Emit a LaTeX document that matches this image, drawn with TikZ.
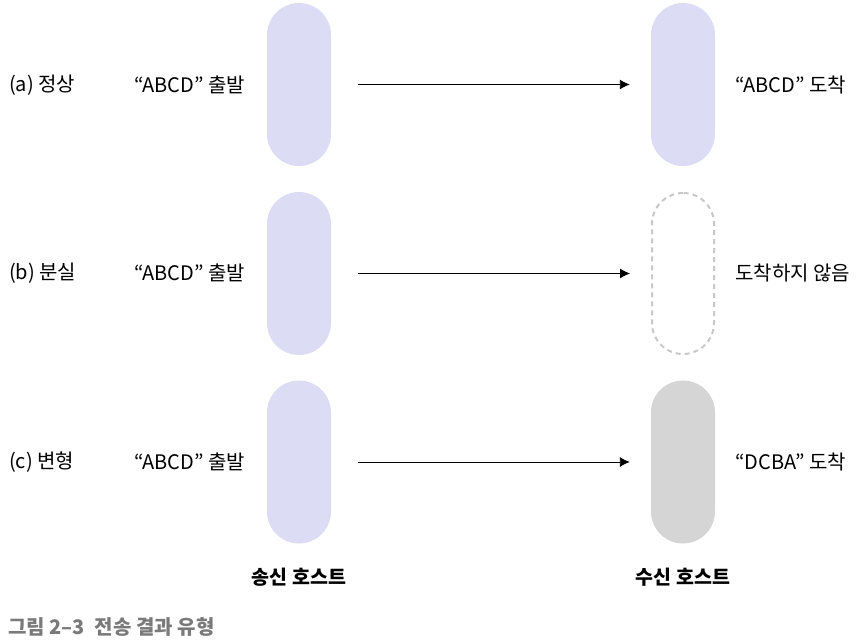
\documentclass[tikz,border=0pt]{standalone}
\usepackage{fontspec}
\setmainfont{Noto Sans CJK KR}
\usetikzlibrary{arrows.meta}
\definecolor{pillblue}{HTML}{DCDCF5}
\definecolor{pillgray}{HTML}{D5D5D5}
\definecolor{dashgray}{HTML}{C8C8C8}
\definecolor{capgray}{HTML}{7A7A7A}
\tikzset{
  pill/.style={rectangle, minimum width=64pt, minimum height=163pt, rounded corners=32pt, inner sep=0pt},
  sendpill/.style={pill, fill=pillblue},
  lostpill/.style={pill, draw=dashgray, line width=2pt, dash pattern=on 5pt off 4pt, minimum width=62pt, minimum height=161pt, rounded corners=31pt},
  graypill/.style={pill, fill=pillgray},
  lbl/.style={font=\fontsize{20}{24}\selectfont, text=black, inner sep=0pt},
  flow/.style={-{Latex[length=10pt,width=10pt]}, line width=0.9pt, shorten <=27pt, shorten >=21pt},
  host/.style={font=\fontsize{19.5}{24}\selectfont\bfseries, inner sep=0pt},
  captext/.style={font=\fontsize{20}{24}\selectfont\bfseries, text=capgray, inner sep=0pt}
}
\begin{document}
\begin{tikzpicture}[x=1pt,y=-1pt]
\useasboundingbox (0,0) rectangle (860,644);
% sender pills
\node[sendpill] (sA) at (299,84.5) {};
\node[sendpill] (sB) at (299,273.5) {};
\node[sendpill] (sC) at (299,462) {};
% receiver pills
\node[sendpill] (rA) at (683,84.5) {};
\node[lostpill] (rB) at (683,273.5) {};
\node[graypill] (rC) at (683,462) {};
% arrows
\draw[flow] (sA.east) -- (rA.west);
\draw[flow] (sB.east) -- (rB.west);
\draw[flow] (sC.east) -- (rC.west);
% left labels
\node[lbl, anchor=west] (la) at (9,85) {(a) 정상};
\node[lbl, anchor=west] (lb) at (9,273) {(b) 분실};
\node[lbl, anchor=west] (lc) at (9,462) {(c) 변형};
\node[lbl, anchor=west] (ma) at (134,85) {“ABCD” 출발};
\node[lbl, anchor=west] (mb) at (134,273) {“ABCD” 출발};
\node[lbl, anchor=west] (mc) at (134,462) {“ABCD” 출발};
% right labels
\node[lbl, anchor=west] (ra) at (735,85) {“ABCD” 도착};
\node[lbl, anchor=west] (rb) at (735,273) {도착하지 않음};
\node[lbl, anchor=west] (rc) at (735,462) {“DCBA” 도착};
% hosts
\node[host] (hs) at (299,577) {송신 호스트};
\node[host] (hr) at (683,577) {수신 호스트};
% caption
\node[captext, anchor=west] (cp) at (8,627) {그림 2–3\hspace{0.5em}전송 결과 유형};
\end{tikzpicture}
\end{document}
